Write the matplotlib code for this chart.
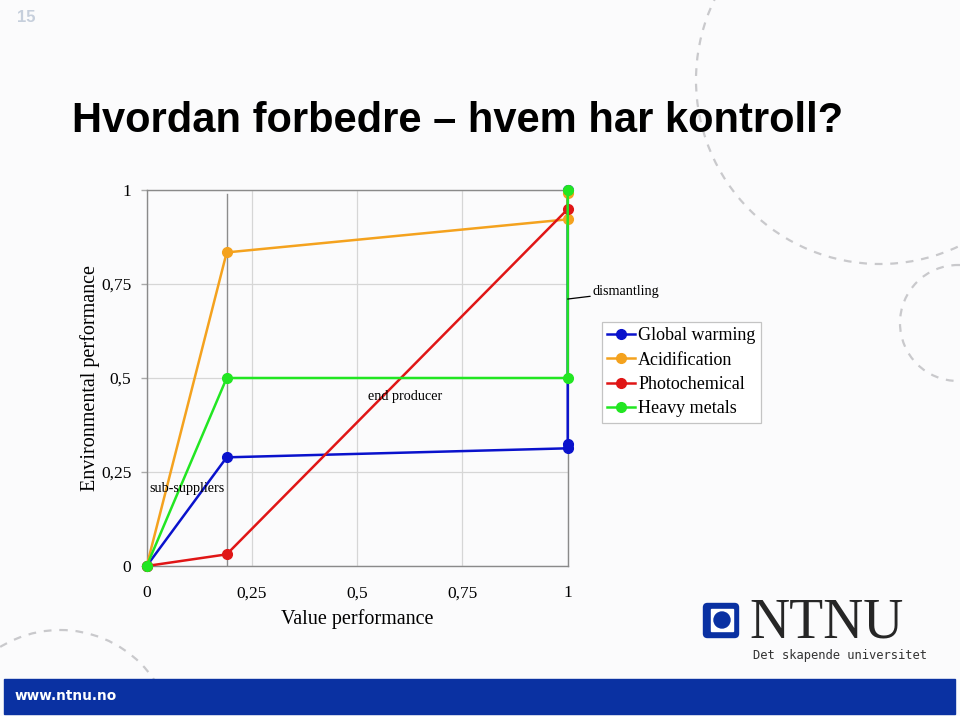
import matplotlib
matplotlib.use("Agg")
import matplotlib.pyplot as plt
from matplotlib.patches import Rectangle, FancyBboxPatch, Circle
from matplotlib.lines import Line2D

# ---------------- data ----------------
series_names = ["Global warming", "Acidification", "Photochemical", "Heavy metals"]
gw_x = [0, 0.19, 1, 1, 1]
gw_y = [0, 0.289, 0.313, 0.324, 1.0]
ac_x = [0, 0.19, 1, 1]
ac_y = [0, 0.834, 0.922, 0.993]
pc_x = [0, 0.19, 1]
pc_y = [0, 0.031, 0.949]
hm_x = [0, 0.19, 1, 1]
hm_y = [0, 0.5, 0.5, 1.0]
stage_boundary = 0.19
tick_values = [0, 0.25, 0.5, 0.75, 1]
tick_labels = ["0", "0,25", "0,5", "0,75", "1"]
stage_labels = ["sub-suppliers", "end producer", "dismantling"]

colors = ["#0a12cc", "#f4a21e", "#e01616", "#22e622"]

W, H = 960, 716
fig = plt.figure(figsize=(W / 100, H / 100), dpi=100)
bg = "#fbfbfc"
fig.patch.set_facecolor(bg)


def fx(px):
    return px / W


def fy(py):
    return (H - py) / H


# ---------------- decorations ----------------
deco = fig.add_axes([0, 0, 1, 1], zorder=0)
deco.set_xlim(0, W)
deco.set_ylim(H, 0)
deco.axis("off")
deco.set_facecolor("none")
arc_kw = dict(color="#c9c9cc", lw=1.6, linestyle=(0, (3.5, 3.5)))
deco.add_patch(Circle((880, 80), 184, fill=False, **arc_kw))
deco.add_patch(Circle((958, 323), 58, fill=False, **arc_kw))
deco.add_patch(Circle((60, 744), 114, fill=False, **arc_kw))

# bottom bar
deco.add_patch(Rectangle((4, 679), 951, 35, color="#0a31a2", zorder=3))
deco.text(15, 696, "www.ntnu.no", color="white", fontsize=9.8, fontweight="bold",
          family="DejaVu Sans", va="center", ha="left", zorder=4)

# page number
deco.text(17, 17, "15", color="#c6cfdc", fontsize=12, fontweight="bold",
          family="Liberation Sans", va="center", ha="left")

# NTNU logo
deco.add_patch(FancyBboxPatch((705, 605), 32, 31, boxstyle="round,pad=1.5,rounding_size=4",
                              color="#0a31a2", zorder=3))
deco.add_patch(Rectangle((711, 609), 22, 22, color="white", zorder=4))
deco.add_patch(Circle((722, 620), 8, color="#0a31a2", zorder=5))
deco.text(749, 638, "NTNU", fontsize=40, family="Liberation Serif", color="#262626",
          va="baseline", ha="left")
deco.text(753, 656, "Det skapende universitet", fontsize=8.7, family="DejaVu Sans Mono",
          color="#333333", va="center", ha="left")

# title
fig.text(fx(72), fy(131.7), "Hvordan forbedre \u2013 hvem har kontroll?", fontsize=30,
         fontweight="bold", family="Liberation Sans", va="baseline", ha="left")

# ---------------- chart ----------------
ax = fig.add_axes([fx(146.7), fy(566), fx(567.7) - fx(146.7), fy(190) - fy(566)], zorder=2)
ax.set_facecolor("none")
ax.set_xlim(0, 1)
ax.set_ylim(0, 1)

for s in ax.spines.values():
    s.set_color("#8a8a8a")
    s.set_linewidth(1.0)

ax.set_xticks(tick_values)
ax.set_xticklabels(tick_labels)
ax.set_yticks(tick_values)
ax.set_yticklabels(tick_labels)
ax.tick_params(axis="x", length=0, pad=14, labelsize=12.5)
ax.tick_params(axis="y", length=4, width=1, color="#aaaaaa", pad=7, labelsize=12.5)
for lab in ax.get_xticklabels() + ax.get_yticklabels():
    lab.set_family("Liberation Serif")
ax.grid(True, color="#d6d6d6", lw=0.9)
ax.set_axisbelow(True)
ax.axvline(stage_boundary, color="#8c8c8c", lw=1.0, ymax=0.99, zorder=1)

series = [(gw_x, gw_y), (ac_x, ac_y), (pc_x, pc_y), (hm_x, hm_y)]
for (xs, ys), c, name in zip(series, colors, series_names):
    ax.plot(xs, ys, color=c, lw=1.8, marker="o", markersize=7, label=name,
            clip_on=False, zorder=3)

ax.set_xlabel("Value performance", fontsize=14.5, family="Liberation Serif")
ax.xaxis.set_label_coords(0.5, -0.141)
ax.xaxis.label.set_va("center")
ax.set_ylabel("Environmental performance", fontsize=14.5, family="Liberation Serif")
ax.yaxis.set_label_coords(-0.135, 0.5)
ax.yaxis.label.set_va("center")

ax.text(0.095, 0.207, stage_labels[0], fontsize=10.2, family="Liberation Serif",
        ha="center", va="center", zorder=4)
ax.text(0.614, 0.452, stage_labels[1], fontsize=10.2, family="Liberation Serif",
        ha="center", va="center", zorder=4)
ax.annotate(stage_labels[2], xy=(1.0, 0.71), xytext=(1.06, 0.729),
            fontsize=10.2, family="Liberation Serif", ha="left", va="center",
            arrowprops=dict(arrowstyle="-", color="black", lw=0.9,
                            shrinkA=0, shrinkB=0), annotation_clip=False)

handles = [Line2D([0], [0], color=c, lw=1.8, marker="o", markersize=7) for c in colors]
leg = fig.legend(handles, series_names, loc="upper left",
                 bbox_to_anchor=(fx(602), fy(322)), borderaxespad=0,
                 prop={"family": "Liberation Serif", "size": 13},
                 frameon=True, fancybox=False, edgecolor="#c4c4c4",
                 handlelength=1.5, handletextpad=0.2, labelspacing=0.4,
                 borderpad=0.3, framealpha=1)
leg.get_frame().set_linewidth(0.9)

fig.savefig("out.png", dpi=100, facecolor=bg)
